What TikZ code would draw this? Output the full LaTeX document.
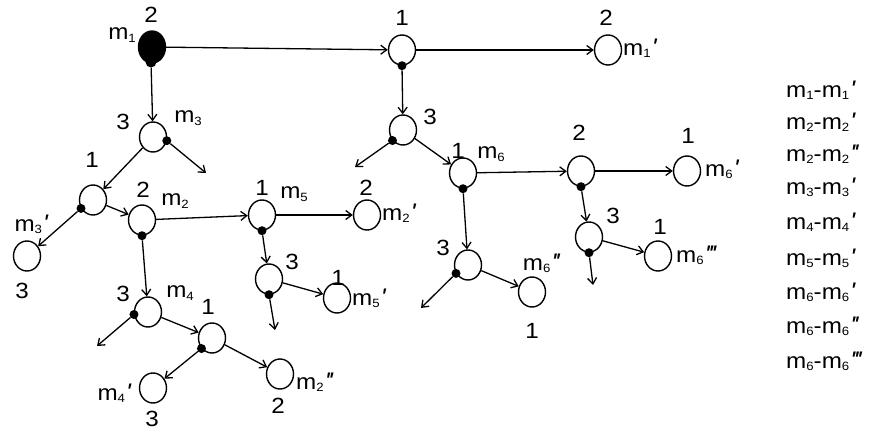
\documentclass[tikz,border=0pt]{standalone}
\usepackage{fontspec}
\setmainfont{Liberation Sans}[FakeStretch=1.1]
\usetikzlibrary{arrows.meta,shapes.geometric}
\newcommand\sbs[1]{\raisebox{-0.2ex}{\fontsize{12}{12}\selectfont #1}}
\newcommand\mx[1]{m\sbs{#1}}
\newcommand\qq{{\fontsize{24}{24}\selectfont\itshape\textquotesingle}}
\newcommand\pq{\kern0.04em\qq}
\newcommand\pqq{\kern0.04em\qq\kern-0.06em\qq}
\newcommand\pqqq{\kern0.04em\qq\kern-0.06em\qq\kern-0.06em\qq}
\begin{document}
\begin{tikzpicture}[x=1pt,y=-1pt,
  font=\fontsize{22}{25}\selectfont,
  circ/.style={draw, ellipse, minimum width=27pt, minimum height=30pt, inner sep=0pt, line width=1.4pt},
  blk/.style={draw, fill=black, ellipse, minimum width=27pt, minimum height=32pt, inner sep=0pt, line width=1.4pt},
  dotn/.style={circle, fill=black, inner sep=0pt, minimum size=9pt},
  arr/.style={-{Straight Barb[length=6pt,width=9pt]}, line width=1.3pt},
  lab/.style={inner sep=1pt},
  leg/.style={inner sep=0pt, anchor=west}]
\useasboundingbox (0,0) rectangle (885,430);
% nodes
\node[blk] (m1) at (152,47) {};
\node[dotn, minimum size=11pt] (m1d) at (151,62) {};
\node[circ] (A) at (402,50) {};
\node[circ] (B) at (608,50) {};
\node[circ] (C) at (403,130) {};
\node[circ] (D) at (463,173) {};
\node[circ] (E) at (581,171) {};
\node[circ] (G) at (687,171) {};
\node[circ] (H) at (589,237) {};
\node[circ] (I) at (658,256) {};
\node[circ] (F) at (468,265) {};
\node[circ] (J) at (532,292) {};
\node[circ] (K) at (153,137) {};
\node[circ] (L) at (93,200) {};
\node[circ] (M) at (27,256) {};
\node[circ] (N) at (142,220) {};
\node[circ] (O) at (262,215) {};
\node[circ] (Q) at (367,215) {};
\node[circ] (R) at (269,279) {};
\node[circ] (S) at (337,298) {};
\node[circ] (P) at (148,312) {};
\node[circ] (T) at (212,338) {};
\node[circ] (U) at (153,388) {};
\node[circ] (V) at (280,374) {};
% dots
\node[dotn] (Ad) at (A.south) {};
\node[dotn] (Cd) at (C.225) {};
\node[dotn] (Dd) at (D.south) {};
\node[dotn] (Ed) at (E.south) {};
\node[dotn] (Hd) at (H.south) {};
\node[dotn] (Fd) at (F.215) {};
\node[dotn] (Kd) at (K.345) {};
\node[dotn] (Ld) at (L.215) {};
\node[dotn] (Nd) at (N.south) {};
\node[dotn] (Od) at (O.south) {};
\node[dotn] (Rd) at (R.south) {};
\node[dotn] (Pd) at (P.190) {};
\node[dotn] (Td) at (T.225) {};
% free ends
\coordinate (Cf) at (355,167);
\coordinate (Hf) at (593,285);
\coordinate (Ff) at (421,308);
\coordinate (Kf) at (206,173);
\coordinate (Rf) at (275,330);
\coordinate (Pf) at (97,346);
% connectors
\draw[arr] (m1) -- (A);
\draw[arr] (A) -- (B);
\draw[arr] (Ad) -- (C);
\draw[arr] (Cd) -- (Cf);
\draw[arr] (C) -- (D);
\draw[arr] (D) -- (E);
\draw[arr] (Dd) -- (F);
\draw[arr] (E) -- (G);
\draw[arr] (Ed) -- (H);
\draw[arr] (H) -- (I);
\draw[arr] (Hd) -- (Hf);
\draw[arr] (F) -- (J);
\draw[arr] (Fd) -- (Ff);
\draw[arr] (m1d) -- (K);
\draw[arr] (Kd) -- (Kf);
\draw[arr] (K) -- (L);
\draw[arr] (Ld) -- (M);
\draw[arr] (L) -- (N);
\draw[arr] (N) -- (O);
\draw[arr] (Nd) -- (P);
\draw[arr] (O) -- (Q);
\draw[arr] (Od) -- (R);
\draw[arr] (R) -- (S);
\draw[arr] (Rd) -- (Rf);
\draw[arr] (P) -- (T);
\draw[arr] (Pd) -- (Pf);
\draw[arr] (Td) -- (U);
\draw[arr] (T) -- (V);
% labels
\node[lab] (l1) at (151,15) {2};
\node[lab] (l2) at (122,35) {\mx1};
\node[lab] (l3) at (402,18) {1};
\node[lab] (l4) at (606,18) {2};
\node[lab, anchor=west] (l5) at (622,48) {\mx1\pq};
\node[lab] (l6) at (430,117) {3};
\node[lab] (l7) at (458,151) {1};
\node[lab] (l8) at (491,154) {\mx6};
\node[lab] (l9) at (579,133) {2};
\node[lab] (l10) at (688,136) {1};
\node[lab, anchor=west] (l11) at (704,169) {\mx6\pq};
\node[lab] (l12) at (613,216) {3};
\node[lab] (l13) at (660,227) {1};
\node[lab, anchor=west] (l14) at (675,255) {\mx6\pqqq};
\node[lab] (l15) at (443,248) {3};
\node[lab] (l16) at (541,263) {\mx6\pqq};
\node[lab] (l17) at (532,331) {1};
\node[lab] (l18) at (123,122) {3};
\node[lab] (l19) at (188,118) {\mx3};
\node[lab] (l20) at (92,160) {1};
\node[lab] (l21) at (31,224) {\mx3\pq};
\node[lab] (l22) at (22,291) {3};
\node[lab] (l23) at (143,190) {2};
\node[lab] (l24) at (175,201) {\mx2};
\node[lab] (l25) at (262,188) {1};
\node[lab] (l26) at (294,194) {\mx5};
\node[lab] (l27) at (366,188) {2};
\node[lab, anchor=west] (l28) at (381,213) {\mx2\pq};
\node[lab] (l29) at (292,262) {3};
\node[lab] (l30) at (338,278) {1};
\node[lab, anchor=west] (l31) at (351,298) {\mx5\pq};
\node[lab] (l32) at (123,294) {3};
\node[lab] (l33) at (180,293) {\mx4};
\node[lab] (l34) at (208,307) {1};
\node[lab] (l35) at (114,393) {\mx4\pq};
\node[lab] (l36) at (152,419) {3};
\node[lab, anchor=west] (l37) at (295,382) {\mx2\pqq};
\node[lab] (l38) at (278,406) {2};
% legend
\node[leg] (g1) at (786,90) {\mx1-\mx1\pq};
\node[leg] (g2) at (786,122) {\mx2-\mx2\pq};
\node[leg] (g3) at (786,154) {\mx2-\mx2\pqq};
\node[leg] (g4) at (786,187) {\mx3-\mx3\pq};
\node[leg] (g5) at (786,222) {\mx4-\mx4\pq};
\node[leg] (g6) at (786,258) {\mx5-\mx5\pq};
\node[leg] (g7) at (786,292) {\mx6-\mx6\pq};
\node[leg] (g8) at (786,326) {\mx6-\mx6\pqq};
\node[leg] (g9) at (786,361) {\mx6-\mx6\pqqq};
\end{tikzpicture}
\end{document}
